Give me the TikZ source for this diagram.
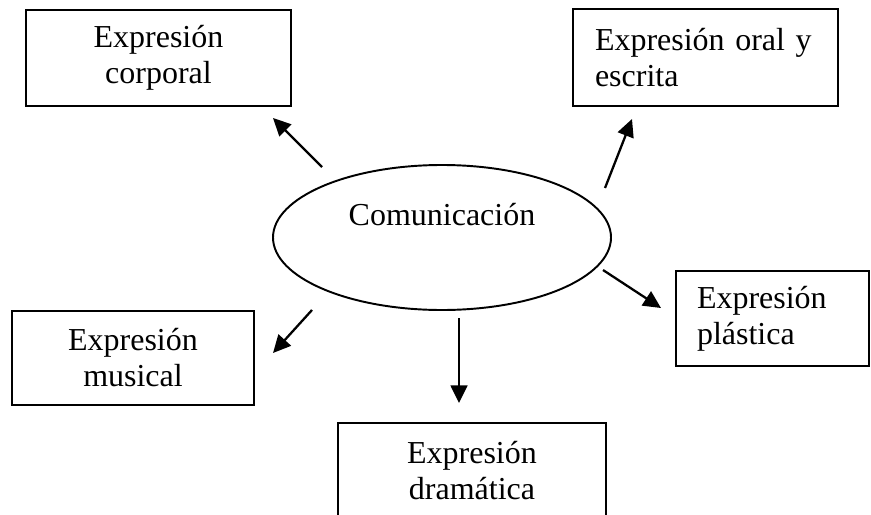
\documentclass[tikz,border=0pt]{standalone}
\usepackage{fontspec}
\setmainfont{Liberation Serif}
\usetikzlibrary{shapes.geometric,arrows.meta}

\begin{document}
\begin{tikzpicture}[
    txt/.style={font=\fontsize{18.2}{20.5}\selectfont},
    box/.style={txt,draw,line width=1.1pt,rectangle,inner sep=0pt,
                align=center},
    lbox/.style={txt,draw,line width=1.1pt,rectangle,inner ysep=0pt,
                 align=left},
    core/.style={txt,draw,line width=1.1pt,ellipse,inner sep=0pt,
                 minimum width=6.76cm,minimum height=2.9cm,
                 text height=0.5cm,text depth=1.0cm},
    arr/.style={-{Triangle[length=10pt,width=9.5pt]},line width=1.3pt}
  ]
    \useasboundingbox (0,0) rectangle (17.42,-10.28);
    \clip (0,0) rectangle (17.42,-10.28);
    % centre
    \node[core] (comm) at (8.84,-4.75) {Comunicación};
    % the five boxes
    \node[box,minimum width=5.30cm,minimum height=1.92cm] (corp) at (3.17,-1.16) {Expresión\\corporal};
    \node[lbox,text width=4.42cm,inner xsep=0.44cm,minimum height=1.94cm] (oral) at (14.11,-1.15) {Expresión oral y\\escrita};
    \node[lbox,text width=3.02cm,inner xsep=0.42cm,minimum height=1.90cm] (plas) at (15.45,-6.37) {Expresión\\plástica};
    \node[box,minimum width=4.84cm,minimum height=1.88cm] (musi) at (2.66,-7.16) {Expresión\\musical};
    \node[box,minimum width=5.36cm,minimum height=1.90cm] (dram) at (9.44,-9.41) {Expresión\\dramática};
    % loose arrow ends
    \coordinate (corp-t) at (6.44,-3.34);  \coordinate (corp-h) at (5.46,-2.36);
    \coordinate (oral-t) at (12.10,-3.76); \coordinate (oral-h) at (12.64,-2.38);
    \coordinate (plas-t) at (12.06,-5.40); \coordinate (plas-h) at (13.22,-6.16);
    \coordinate (musi-t) at (6.24,-6.20);  \coordinate (musi-h) at (5.46,-7.06);
    \coordinate (dram-t) at (9.18,-6.36);  \coordinate (dram-h) at (9.18,-8.06);
    \draw[arr] (corp-t) -- (corp-h);
    \draw[arr] (oral-t) -- (oral-h);
    \draw[arr] (plas-t) -- (plas-h);
    \draw[arr] (musi-t) -- (musi-h);
    \draw[arr] (dram-t) -- (dram-h);
\end{tikzpicture}
\end{document}
